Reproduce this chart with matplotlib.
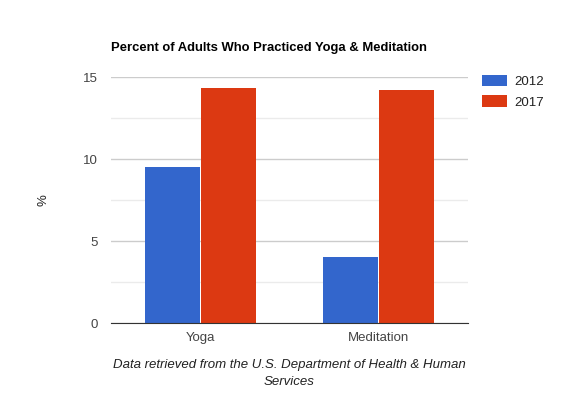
import matplotlib.pyplot as plt
import numpy as np

plt.rcParams['font.family'] = ['Liberation Sans', 'DejaVu Sans']

categories = ['Yoga', 'Meditation']
series_names = ['2012', '2017']
values_2012 = [9.5, 4.05]
values_2017 = [14.3, 14.2]
colors = ['#3366cc', '#dc3912']

fig = plt.figure(figsize=(5.8, 4.0), dpi=100)
ax = fig.add_axes([111 / 580, 1 - 323.3 / 400, 357 / 580, 246.3 / 400])

x = np.arange(len(categories))
w = 0.308
ax.bar(x - w / 2 - 0.003, values_2012, w, color=colors[0], label=series_names[0], zorder=3)
ax.bar(x + w / 2 + 0.003, values_2017, w, color=colors[1], label=series_names[1], zorder=3)

ax.set_xlim(-0.5, 1.5)
ax.set_ylim(0, 15)
ax.set_yticks([0, 5, 10, 15])
ax.set_yticks([2.5, 7.5, 12.5], minor=True)
ax.grid(axis='y', which='major', color='#cccccc', linewidth=1, zorder=0)
ax.grid(axis='y', which='minor', color='#ebebeb', linewidth=1, zorder=0)
ax.set_xticks(x)
ax.set_xticklabels(categories)
ax.tick_params(axis='both', which='both', length=0, labelsize=9.5, labelcolor='#444444')
ax.tick_params(axis='y', pad=9.5)
ax.tick_params(axis='x', pad=6)
for s in ['top', 'right', 'left']:
    ax.spines[s].set_visible(False)
ax.spines['bottom'].set_color('#333333')
ax.spines['bottom'].set_zorder(4)

ax.set_ylabel('%', fontsize=9.5, color='#222222', labelpad=24)
fig.text(0.5 * (111 + 468) / 580, 1 - 373.5 / 400,
         'Data retrieved from the U.S. Department of Health & Human\nServices',
         ha='center', va='center', fontsize=9.5, style='italic', color='#222222',
         linespacing=1.45)

fig.text(111 / 580, 1 - 48 / 400, 'Percent of Adults Who Practiced Yoga & Meditation',
         ha='left', va='center', fontsize=9.4, fontweight='bold', color='#000000')

ax.legend(loc='upper left', bbox_to_anchor=(1.025, 1.03), frameon=False,
          fontsize=9.5, handlelength=1.9, handleheight=0.95, labelspacing=0.55,
          handletextpad=0.5, borderaxespad=0, labelcolor='#222222')

fig.savefig('out.png', dpi=100)
